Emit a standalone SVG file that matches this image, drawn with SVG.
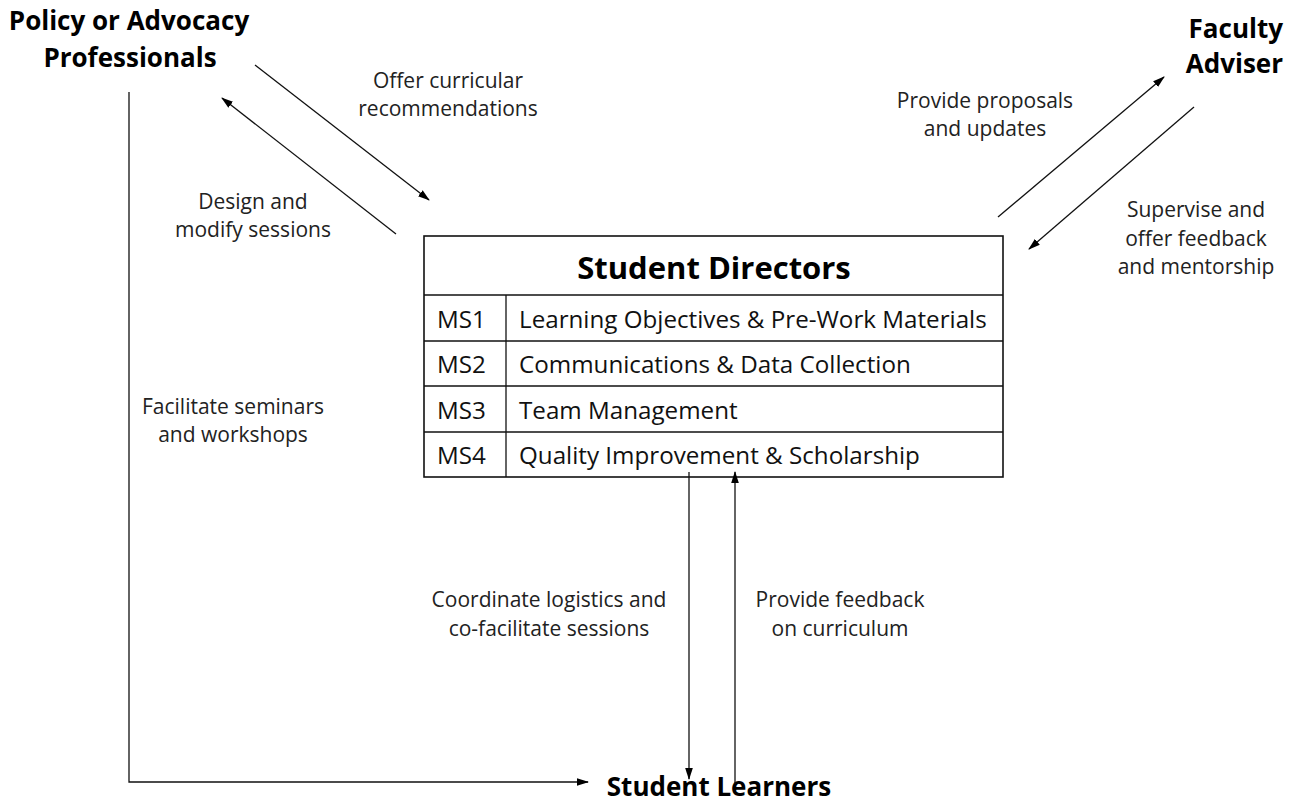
<svg xmlns="http://www.w3.org/2000/svg" width="1299" height="803" viewBox="0 0 1299 803">
<defs>
<marker id="ah" viewBox="0 0 12 10" refX="11" refY="5" markerWidth="12" markerHeight="10" markerUnits="userSpaceOnUse" orient="auto"><path d="M0,1.2 L12,5 L0,8.8 z" fill="#000"/></marker>
<style>
.t{font-family:"Open Sans","Liberation Sans",sans-serif;font-size:21px;fill:#222;text-anchor:middle}
.b{font-family:"Open Sans","Liberation Sans",sans-serif;font-weight:bold;fill:#000;text-anchor:middle}
.e{text-anchor:end}
.c{font-family:"Open Sans","Liberation Sans",sans-serif;font-size:24.2px;fill:#111}
.ln{stroke:#111;stroke-width:1.3;fill:none}
.cell{stroke:#111;stroke-width:1.6;fill:#fff}
</style>
</defs>
<rect width="1299" height="803" fill="#fff"/>
<g id="policy"><text class="b" font-size="26" x="129" y="30">Policy or Advocacy</text><text class="b" font-size="26" x="130" y="67">Professionals</text></g>
<g id="faculty"><text class="b e" font-size="26" x="1283" y="38">Faculty</text><text class="b e" font-size="26" x="1283" y="73">Adviser</text></g>
<g id="directors">
<rect class="cell" x="424" y="236" width="579" height="241"/>
<line class="ln" x1="424" y1="295" x2="1003" y2="295"/>
<line class="ln" x1="424" y1="341" x2="1003" y2="341"/>
<line class="ln" x1="424" y1="386" x2="1003" y2="386"/>
<line class="ln" x1="424" y1="432" x2="1003" y2="432"/>
<line class="ln" x1="506" y1="295" x2="506" y2="477"/>
<text class="b" font-size="31" x="714" y="279">Student Directors</text>
<text class="c" x="437" y="328">MS1</text><text class="c" x="519" y="328">Learning Objectives &amp; Pre-Work Materials</text>
<text class="c" x="437" y="373">MS2</text><text class="c" x="519" y="373">Communications &amp; Data Collection</text>
<text class="c" x="437" y="419">MS3</text><text class="c" x="519" y="419">Team Management</text>
<text class="c" x="437" y="464">MS4</text><text class="c" x="519" y="464">Quality Improvement &amp; Scholarship</text>
</g>
<g id="learners"><text class="b" font-size="26" x="719" y="796">Student Learners</text></g>
<g id="connectors">
<line class="ln" x1="255" y1="65" x2="429" y2="200" marker-end="url(#ah)"/>
<line class="ln" x1="396" y1="234" x2="222" y2="98" marker-end="url(#ah)"/>
<line class="ln" x1="998" y1="217" x2="1164" y2="77" marker-end="url(#ah)"/>
<line class="ln" x1="1194" y1="107" x2="1029" y2="249" marker-end="url(#ah)"/>
<polyline class="ln" points="129,92 129,782 588,782" marker-end="url(#ah)"/>
<line class="ln" x1="689" y1="472" x2="689" y2="779" marker-end="url(#ah)"/>
<line class="ln" x1="735" y1="784" x2="735" y2="472" marker-end="url(#ah)"/>
</g>
<g id="labels">
<text class="t" x="448" y="88">Offer curricular</text><text class="t" x="448" y="116">recommendations</text>
<text class="t" x="253" y="209">Design and</text><text class="t" x="253" y="237">modify sessions</text>
<text class="t" x="985" y="108">Provide proposals</text><text class="t" x="985" y="136">and updates</text>
<text class="t" x="1196" y="217">Supervise and</text><text class="t" x="1196" y="246">offer feedback</text><text class="t" x="1196" y="274">and mentorship</text>
<text class="t" x="233" y="414">Facilitate seminars</text><text class="t" x="233" y="442">and workshops</text>
<text class="t" x="549" y="607">Coordinate logistics and</text><text class="t" x="549" y="636">co-facilitate sessions</text>
<text class="t" x="840" y="607">Provide feedback</text><text class="t" x="840" y="636">on curriculum</text>
</g>
</svg>
